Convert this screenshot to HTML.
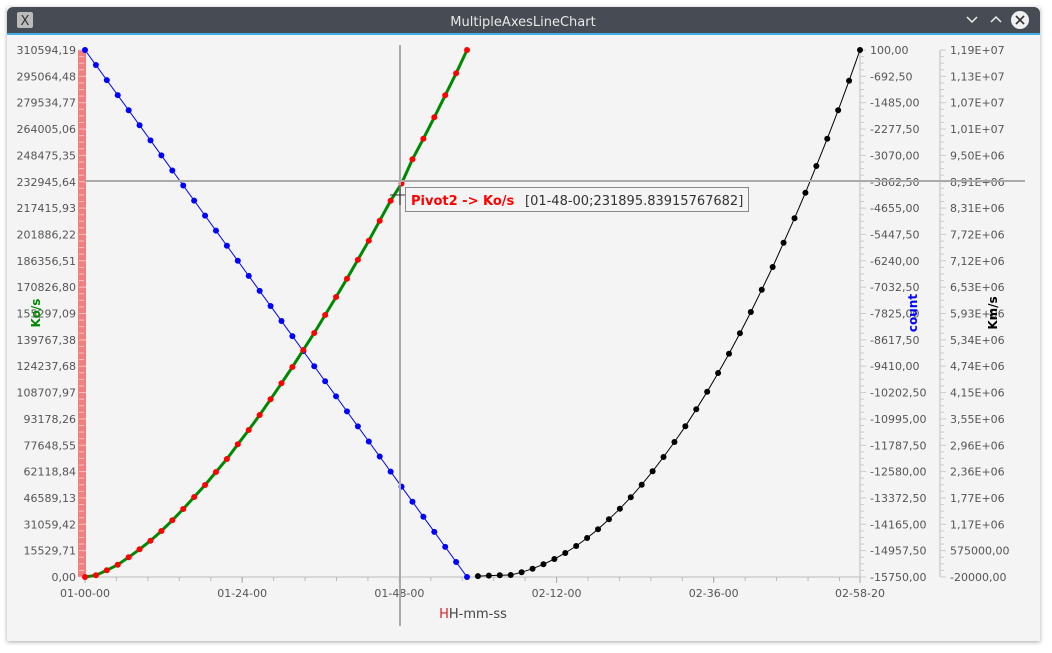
<!DOCTYPE html>
<html><head><meta charset="utf-8"><style>
html,body{margin:0;padding:0;background:#fff;width:1052px;height:653px;overflow:hidden}
svg{display:block;font-family:"DejaVu Sans","Liberation Sans",sans-serif}
</style></head><body>
<svg id="chart" width="1052" height="653" viewBox="0 0 1052 653">
<defs><filter id="sh" x="-5%" y="-5%" width="110%" height="110%"><feDropShadow dx="0" dy="1" stdDeviation="2" flood-color="#000" flood-opacity="0.35"/></filter></defs>
<rect x="7" y="7" width="1033" height="634" fill="#f4f4f4" filter="url(#sh)"/>
<g>
<path d="M7,13 a6,6 0 0 1 6,-6 h1021 a6,6 0 0 1 6,6 v21 h-1033z" fill="#474c54"/>
<rect x="7" y="33" width="1033" height="2" fill="#3daee9"/>
<rect x="17" y="12" width="16" height="16" rx="2" fill="#bbb"/>
<text x="25" y="25" font-size="13" text-anchor="middle" fill="#333">X</text>
<text x="523" y="26" font-size="13" text-anchor="middle" fill="#e8e8e8">MultipleAxesLineChart</text>
<path d="M967,17 l5,5 l5,-5" stroke="#eee" stroke-width="1.5" fill="none"/>
<path d="M991,22 l5,-5 l5,5" stroke="#eee" stroke-width="1.5" fill="none"/>
<g><circle cx="1020" cy="20" r="9" fill="#f0f0f0"/><path d="M1016,16 l8,8 M1024,16 l-8,8" stroke="#333" stroke-width="1.6"/></g>
</g>
<g id="plot"></g>
</svg>
<script>
const xTimesSec=[0,1440,2880,4320,5760,7100];
const xTickLabels=["01-00-00","01-24-00","01-48-00","02-12-00","02-36-00","02-58-20"];
const koTickLabels=["0,00","15529,71","31059,42","46589,13","62118,84","77648,55","93178,26","108707,97","124237,68","139767,38","155297,09","170826,80","186356,51","201886,22","217415,93","232945,64","248475,35","264005,06","279534,77","295064,48","310594,19"];
const countTickLabels=["-15750,00","-14957,50","-14165,00","-13372,50","-12580,00","-11787,50","-10995,00","-10202,50","-9410,00","-8617,50","-7825,00","-7032,50","-6240,00","-5447,50","-4655,00","-3862,50","-3070,00","-2277,50","-1485,00","-692,50","100,00"];
const kmTickLabels=["-20000,00","575000,00","1,17E+06","1,77E+06","2,36E+06","2,96E+06","3,55E+06","4,15E+06","4,74E+06","5,34E+06","5,93E+06","6,53E+06","7,12E+06","7,72E+06","8,31E+06","8,91E+06","9,50E+06","1,01E+07","1,07E+07","1,13E+07","1,19E+07"];
const koValues=[0,1000,3950,7250,11610,16330,21390,27110,33420,40080,47150,54220,61880,69550,78210,86640,95480,104730,114160,123770,133790,143810,154420,165020,175810,187010,198210,209990,221780,231895.84,246180,258320,270930,283900,296870,310594.19];
const countValues=[100,-352.86,-805.71,-1258.57,-1711.43,-2164.29,-2617.14,-3070,-3522.86,-3975.71,-4428.57,-4881.43,-5334.29,-5787.14,-6240,-6692.86,-7145.71,-7598.57,-8051.43,-8504.29,-8957.14,-9410,-9862.86,-10315.71,-10768.57,-11221.43,-11674.29,-12127.14,-12580,-13032.86,-13485.71,-13938.57,-14391.43,-14844.29,-15297.14,-15750];
const kmValues=[0,10000,20000,25200,86300,167700,267300,387100,522900,681200,862100,1058900,1285100,1524900,1782700,2067700,2370800,2694300,3033600,3388700,3773200,4171300,4594300,5030800,5492200,5974000,6478400,6991900,7541500,8093400,8672500,9276400,9893900,10536300,11205800,11900000];
const stepSec=100, kmStartIndex=36;
const X0=85,X1=860,YB=577,YT=50;
const xS=t=>X0+t/7100*(X1-X0);
const yKo=v=>YB-v/310594.19*(YB-YT);
const yCount=v=>YB-(v+15750)/15850*(YB-YT);
const yKm=v=>YB-(v+20000)/11920000*(YB-YT);
const NS="http://www.w3.org/2000/svg";
const g=document.getElementById('plot');
function mk(tag,at,parent){const e=document.createElementNS(NS,tag);for(const k in at)e.setAttribute(k,at[k]);(parent||g).appendChild(e);return e;}
// x axis
const xa=mk('g',{});


mk('line',{x1:X0,y1:YB,x2:X1,y2:YB,stroke:'#bbb','stroke-width':1},xa);
for(let t=0;t<=7100;t+=288){mk('line',{x1:xS(t),y1:YB,x2:xS(t),y2:YB+4,stroke:'#bbb'},xa);}
xTimesSec.forEach((t,i)=>{mk('line',{x1:xS(t),y1:YB,x2:xS(t),y2:YB+6,stroke:'#aaa'},xa);
const tx=mk('text',{x:xS(t),y:YB+20,'font-size':11,'text-anchor':'middle',fill:'#555'},xa);tx.textContent=xTickLabels[i];

});
const xt=mk('text',{x:473,y:618,'font-size':13,'text-anchor':'middle',fill:'#444'});
xt.innerHTML='<tspan fill="#d22">H</tspan>H-mm-ss';


// left axis
const la=mk('g',{});


mk('rect',{x:78,y:YT,width:8,height:YB-YT,fill:'#f08080'},la);
for(let k=0;k<=80;k++){const y=YB-k*(YB-YT)/80;mk('line',{x1:79,y1:y,x2:k%4==0?86:84,y2:y,stroke:'#f6c0c0'},la);}
koTickLabels.forEach((s,i)=>{const y=YB-i*(YB-YT)/20;const t=mk('text',{x:76,y:y+4,'font-size':11,'text-anchor':'end',fill:'#555'},la);t.textContent=s;});
const lt=mk('text',{x:40,y:313,'font-size':12,'font-weight':'bold',fill:'#080','text-anchor':'middle',transform:'rotate(-90 40 313)'});lt.textContent='Ko/s';


// right axes
function rAxis(x,labels,name){const a=mk('g',{});
mk('line',{x1:x,y1:YT,x2:x,y2:YB,stroke:'#bbb'},a);
for(let k=0;k<=80;k++){const y=YB-k*(YB-YT)/80;mk('line',{x1:x,y1:y,x2:x+(k%4==0?6:4),y2:y,stroke:'#ccc'},a);}
labels.forEach((s,i)=>{const y=YB-i*(YB-YT)/20;const t=mk('text',{x:x+10,y:y+4,'font-size':11,fill:'#555'},a);t.textContent=s;});}
rAxis(860,countTickLabels,'count-axis');
rAxis(940,kmTickLabels,'kms-axis');
const ct=mk('text',{x:917,y:313,'font-size':12,'font-weight':'bold',fill:'#00f','text-anchor':'middle',transform:'rotate(-90 917 313)'});ct.textContent='count';


const kt=mk('text',{x:997,y:313,'font-size':12,'font-weight':'bold',fill:'#000','text-anchor':'middle',transform:'rotate(-90 997 313)'});kt.textContent='Km/s';


// series
function series(vals,start,yf,color,dot,w,r,name){const s=mk('g',{});
const pts=vals.map((v,i)=>[xS((start+i)*stepSec),yf(v)]);
mk('polyline',{points:pts.map(p=>p.join(',')).join(' '),fill:'none',stroke:color,'stroke-width':w},s);
pts.forEach(p=>{const c=mk('circle',{cx:p[0],cy:p[1],r:r,fill:dot},s);});}
series(countValues,0,yCount,'#00f','#00f',1,3,'count-series');
series(kmValues,kmStartIndex,yKm,'#000','#000',1,3,'kms-series');
series(koValues,0,yKo,'#080','#f00',3,3,'ko-series');
// crosshair & tooltip
const ch=mk('g',{});
mk('line',{x1:400,y1:45,x2:400,y2:626,stroke:'#aaa','stroke-width':2},ch);
mk('line',{x1:85,y1:181,x2:1025,y2:181,stroke:'#aaa','stroke-width':2},ch);
mk('path',{d:'M390,195 h20 M400,185 v20',stroke:'#333','stroke-width':1},ch);
const tt=mk('g',{});
mk('rect',{x:405.5,y:187.5,width:343,height:24,fill:'#f4f4f4',stroke:'#888'},tt);
const t1=mk('text',{x:411,y:205,'font-size':13,'font-weight':'bold',fill:'#f00'},tt);t1.textContent='Pivot2 -> Ko/s';
const t2=mk('text',{x:525,y:205,'font-size':13,fill:'#333'},tt);t2.textContent='[01-48-00;231895.83915767682]';
</script>
</body></html>
